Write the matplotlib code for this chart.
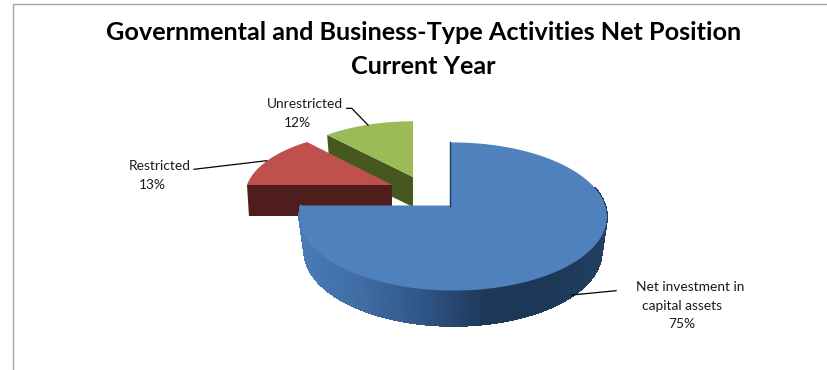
import numpy as np
import matplotlib
matplotlib.use("Agg")
import matplotlib.pyplot as plt
from matplotlib.patches import Polygon
from matplotlib.collections import PolyCollection
from matplotlib.colors import LinearSegmentedColormap

title_lines = ["Governmental and Business-Type Activities Net Position", "Current Year"]
shares = [75, 13, 12]
top_colors = ["#4f81bd", "#c0504d", "#9bbb59"]
side_colors = ["#1f3a5c", "#4f1d1b", "#47581f"]
# label text per line, the percent line is added from shares
label_names = [["Net investment in", "capital assets"], ["Restricted"], ["Unrestricted"]]

plt.rcParams['font.family'] = ['Lato', 'DejaVu Sans']

# pixel space, y down
fig = plt.figure(figsize=(8.28, 3.70), dpi=100)
ax = fig.add_axes([0, 0, 1, 1])
ax.set_xlim(0, 828)
ax.set_ylim(370, 0)
ax.axis("off")

TILT = 0.1486


def project(theta, anchor, fx, fy, roll):
    # perspective projection of a point on the pie disc, theta clockwise from 12 o'clock
    u = np.sin(theta)
    v = np.cos(theta)
    d = 1 + TILT * v + roll * u
    return anchor[0] + fx * u / d, anchor[1] - fy * v / d


def disc(t0, t1, anchor, fx, fy, roll, n=120):
    t = np.linspace(t0, t1, n)
    x, y = project(t, anchor, fx, fy, roll)
    return np.column_stack([x, y])


# chart frame, open at the bottom and right
ax.plot([13.5, 13.5, 828], [370, 3.5, 3.5], color="#a6a6a6", lw=1.0, zorder=1)

# slice spans, clockwise from 12 o'clock
edges = np.cumsum([0] + shares) / sum(shares) * 2 * np.pi

# exploded positions and sizes of the upper and lower faces
upper = [((450, 205.5), 152, 72.4, -0.02), ((392, 185), 127, 60.3, 0.124), ((413, 177), 139, 64, 0)]
lower = [((450, 240), 147, 73, -0.02), ((392, 216), 125.3, 58, 0.124), ((413, 207), 135, 62, 0)]

# green slice, then red, then blue in front
for i, z in [(2, 2), (1, 3)]:
    t0, t1 = edges[i], edges[i + 1]
    a, fx, fy, roll = upper[i]
    a2, fx2, fy2, roll2 = lower[i]
    p_top = np.array(project(t0, a, fx, fy, roll))
    p_low = np.array(project(t0, a2, fx2, fy2, roll2))
    ax.add_patch(Polygon([a, p_top, p_low, a2], closed=True, fc=side_colors[i], ec="none", zorder=z))
    pts = np.vstack([[a], disc(t0, t1, a, fx, fy, roll)])
    ax.add_patch(Polygon(pts, closed=True, fc=top_colors[i], ec="none", zorder=z))

# blue slice: rim shaded in strips from left to right
t0, t1 = edges[0], edges[1]
a, fx, fy, roll = upper[0]
a2, fx2, fy2, roll2 = lower[0]
rim_cmap = LinearSegmentedColormap.from_list("rim", ["#4a7bb5", "#3f6ca3", "#2f5585", "#1e3859", "#1d3756", "#223f62"])
t = np.linspace(np.pi / 2 - 0.25, t1, 200)
xu, yu = project(t, a, fx, fy, roll)
xl, yl = project(t, a2, fx2, fy2, roll2)
quads = [[(xu[k], yu[k]), (xu[k + 1], yu[k + 1]), (xl[k + 1], yl[k + 1]), (xl[k], yl[k])] for k in range(len(t) - 1)]
vals = (0.5 * (xu[:-1] + xu[1:]) - xu.min()) / (xu.max() - xu.min())
rim = PolyCollection(quads, array=vals, cmap=rim_cmap, clim=(0, 1), edgecolors="face", linewidths=0.8,
                     antialiaseds=False, zorder=4)
ax.add_collection(rim)
pts = np.vstack([[a], disc(t0, t1, a, fx, fy, roll, 300)])
ax.add_patch(Polygon(pts, closed=True, fc=top_colors[0], ec="none", zorder=5))
top_x, top_y = project(t0, a, fx, fy, roll)
ax.plot([a[0], top_x], [a[1], top_y], color=side_colors[0], lw=1.0, zorder=5.1)

# leader lines
ax.plot([572, 616], [295, 290.7], color="black", lw=0.9, zorder=6)
ax.plot([194, 266.7], [169.3, 160.7], color="black", lw=0.9, zorder=6)
ax.plot([346.7, 351.7, 368], [108.3, 108.3, 125], color="black", lw=0.9, zorder=6)

# data labels, one text per line
name_pos = [[(690, 287), (682, 306)], [(160, 166)], [(305, 104)]]
pct_pos = [(682, 324), (152, 185), (297, 123)]
for names, positions, share, pct_xy in zip(label_names, name_pos, shares, pct_pos):
    for name, (x, y) in zip(names, positions):
        ax.text(x, y, name, ha="center", va="center", fontsize=9.9, color="#1a1a1a", zorder=7)
    ax.text(pct_xy[0], pct_xy[1], f"{share}%", ha="center", va="center", fontsize=9.9, color="#1a1a1a", zorder=7)

ax.text(423.5, 33, title_lines[0], ha="center", va="center", fontsize=18.2, fontweight="bold", color="black")
ax.text(423.5, 66, title_lines[1], ha="center", va="center", fontsize=18.2, fontweight="bold", color="black")

fig.savefig("out.png", dpi=100)
